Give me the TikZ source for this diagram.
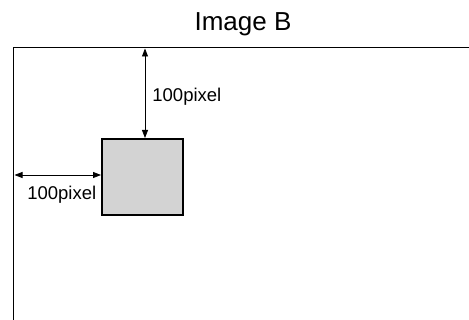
\documentclass[tikz,border=0pt]{standalone}
\usepackage{fontspec}
\setmainfont{Liberation Sans}
\usetikzlibrary{arrows.meta, positioning}
\definecolor{boxgray}{RGB}{211,211,211}
\tikzset{
  frame/.style={draw, line width=1pt},
  block/.style={rectangle, draw, line width=2pt, fill=boxgray, minimum width=81pt, minimum height=76pt, inner sep=0pt},
  dim/.style={{Triangle[length=8pt, width=6pt]}-{Triangle[length=8pt, width=6pt]}, line width=0.8pt},
  dimlabel/.style={font=\fontsize{18.5}{22}\selectfont, inner sep=0pt},
  title/.style={font=\fontsize{26}{30}\selectfont, inner sep=0pt}
}

\begin{document}
\begin{tikzpicture}[x=1pt, y=-1pt]
    \useasboundingbox (0,0) rectangle (469,320);
    \node[title] (head) at (243,24) {Image B};

    % image border, open to the right and bottom
    \coordinate (corner) at (13.5,47.5);
    \draw[frame] (469,47.5) -- (corner) -- (13.5,320);

    \node[block] (square) at (142.5,177) {};

    \coordinate (topedge) at (145,48.5);
    \coordinate (leftedge) at (14.5,175);
    \draw[dim] (topedge) -- (topedge |- square.north)
      node[dimlabel, midway, anchor=west, xshift=7pt, yshift=-3pt] (toplabel) {100pixel};
    \draw[dim] (leftedge) -- (leftedge -| square.west)
      node[dimlabel, midway, anchor=north, xshift=4pt, yshift=-11pt] (leftlabel) {100pixel};
\end{tikzpicture}
\end{document}
